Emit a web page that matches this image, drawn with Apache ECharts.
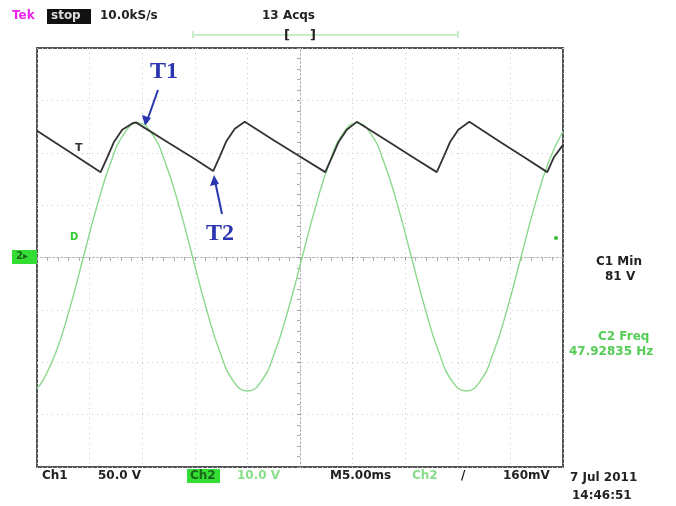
<!DOCTYPE html>
<html><head><meta charset="utf-8">
<script src="https://cdn.jsdelivr.net/npm/echarts@6/dist/echarts.min.js"></script>
<style>html,body{margin:0;padding:0;background:#fff}#c{width:676px;height:506px}</style>
</head><body><div id="c"></div>
<script>
// time in ms relative to trigger (center), vertical in divisions
const greenTimes = [-25,-24.5,-23.2,-21.9,-20.6,-19.3,-18.0,-16.7,-15.4,-14.1,-12.8,-11.5,-10.2,-8.9,-7.6,-6.3,-5.0,-3.7,-2.4,-1.1,0.2,1.5,2.8,4.1,5.4,6.7,8.0,9.3,10.6,11.9,13.2,14.5,15.8,17.1,18.4,19.7,21.0,22.3,23.6,25];
const greenValues = [-2.49,-2.37,-1.81,-0.98,0,0.98,1.81,2.37,2.57,2.37,1.81,0.98,0,-0.98,-1.81,-2.37,-2.55,-2.37,-1.81,-0.98,0,0.98,1.81,2.37,2.57,2.37,1.81,0.98,0,-0.98,-1.81,-2.37,-2.55,-2.37,-1.81,-0.98,0,0.98,1.81,2.41];
const blackTimes = [-25,-22,-18.95,-18.3,-17.7,-16.9,-15.95,-15.6,-12.5,-10,-8.25,-7.6,-7.0,-6.2,-5.25,-2.5,0,2.4,3.05,3.65,4.45,5.4,8.5,11,13,13.65,14.25,15.05,16.1,19,21.5,23.5,24.15,25];
const blackValues = [2.42,2.03,1.63,1.92,2.20,2.44,2.56,2.58,2.19,1.88,1.65,1.94,2.22,2.46,2.59,2.24,1.93,1.63,1.92,2.20,2.44,2.59,2.20,1.88,1.63,1.92,2.20,2.44,2.59,2.21,1.89,1.63,1.92,2.15];

const green = greenTimes.map((t,i)=>[t,greenValues[i]]);
const black = blackTimes.map((t,i)=>[t,blackValues[i]]);

const chart = echarts.init(document.getElementById('c'));
const font = 'DejaVu Sans';
const txt = (x,y,s,color,extra) => Object.assign({type:'text',left:x,top:y,style:{text:s,fill:color||'#222',font:'bold 12px "'+font+'"'}}, extra||{});
const axisCommon = {
  type:'value', axisLabel:{show:false},
  splitLine:{show:true,lineStyle:{color:'#c8c8c8',type:[1,4],width:1}},
  axisLine:{show:true,onZero:true,lineStyle:{color:'#aaa',width:1,type:[1,3]}},
  axisTick:{show:true,length:3,lineStyle:{color:'#999'}},
  minorTick:{show:true,splitNumber:5,length:3,lineStyle:{color:'#aaa'}}
};
chart.setOption({
  animation:false,
  grid:{left:37,top:48,width:526,height:419,show:true,borderColor:'#555',borderWidth:2,backgroundColor:'#fff'},
  xAxis:[Object.assign({},axisCommon,{min:-25,max:25,interval:5}),
         Object.assign({},axisCommon,{min:-25,max:25,interval:5,position:'top',splitLine:{show:false},axisTick:{show:true,inside:true,length:3,lineStyle:{color:'#999'}},minorTick:{show:true,splitNumber:5,length:3,lineStyle:{color:'#aaa'}}})],
  yAxis:[Object.assign({},axisCommon,{min:-4,max:4,interval:1}),
         Object.assign({},axisCommon,{min:-4,max:4,interval:1,position:'right',splitLine:{show:false},axisTick:{show:true,inside:true,length:3,lineStyle:{color:'#999'}},minorTick:{show:true,splitNumber:5,length:3,lineStyle:{color:'#aaa'}}})],
  series:[
    {type:'line',data:green,smooth:true,showSymbol:false,lineStyle:{color:'#8ad98a',width:1.4},z:3},
    {type:'line',data:black,smooth:false,showSymbol:false,lineStyle:{color:'#333',width:1.8},z:4}
  ],
  graphic:[
    txt(12,10,'Tek','#ee22ee'),
    {type:'rect',shape:{x:47,y:9,width:44,height:15},style:{fill:'#111'}},
    txt(51,10,'stop','#ddd'),
    txt(100,10,'10.0kS/s','#222'),
    txt(262,10,'13 Acqs','#222'),
    {type:'line',shape:{x1:193,y1:35,x2:458,y2:35},style:{stroke:'#c9efc9',lineWidth:2}},
    {type:'line',shape:{x1:193,y1:31,x2:193,y2:38},style:{stroke:'#c9efc9',lineWidth:2}},
    {type:'line',shape:{x1:458,y1:31,x2:458,y2:38},style:{stroke:'#c9efc9',lineWidth:2}},
    txt(284,29,'[','#222',{style:{text:'[',fill:'#222',font:'bold 13px "'+font+'"'}}),
    txt(310,29,']','#222',{style:{text:']',fill:'#222',font:'bold 13px "'+font+'"'}}),
    // left ground marker
    {type:'rect',shape:{x:12,y:250,width:25,height:14},style:{fill:'#33dd33'}},
    txt(16,251,'2','#1a661a',{style:{text:'2▸',fill:'#1a661a',font:'bold 10px "'+font+'"'}}),
    txt(70,232,'D','#33cc33',{style:{text:'D',fill:'#33cc33',font:'bold 10px "'+font+'"'}}),
    txt(75,143,'T','#333',{style:{text:'T',fill:'#333',font:'bold 11px "'+font+'"'}}),
    {type:'circle',shape:{cx:556,cy:238,r:2},style:{fill:'#33bb33'}},
    // T1 / T2 annotations
    {type:'text',left:150,top:60,style:{text:'T1',fill:'#2a35b0',font:'bold 24px "Liberation Serif"'}},
    {type:'line',shape:{x1:158,y1:90,x2:147,y2:121},style:{stroke:'#2a35b0',lineWidth:2}},
    {type:'polygon',shape:{points:[[145,126],[142,115],[151,118]]},style:{fill:'#2a35b0'}},
    {type:'text',left:206,top:222,style:{text:'T2',fill:'#2a35b0',font:'bold 24px "Liberation Serif"'}},
    {type:'line',shape:{x1:222,y1:214,x2:215,y2:181},style:{stroke:'#2a35b0',lineWidth:2}},
    {type:'polygon',shape:{points:[[214,175],[210,186],[219,184]]},style:{fill:'#2a35b0'}},
    // right measurements
    txt(596,256,'C1 Min','#222'),
    txt(605,271,'81 V','#222'),
    txt(598,331,'C2 Freq','#55cc55'),
    txt(569,346,'47.92835 Hz','#55cc55'),
    // bottom
    txt(42,470,'Ch1','#222'),
    txt(98,470,'50.0 V','#222'),
    {type:'rect',shape:{x:187,y:469,width:33,height:14},style:{fill:'#33dd33'}},
    txt(190,470,'Ch2','#1a661a'),
    txt(237,470,'10.0 V','#88dd88'),
    txt(330,470,'M5.00ms','#222'),
    txt(412,470,'Ch2','#88dd88'),
    txt(461,470,'/','#222'),
    txt(503,470,'160mV','#222'),
    txt(570,472,'7 Jul 2011','#222'),
    txt(572,490,'14:46:51','#222')
  ]
});
</script></body></html>
